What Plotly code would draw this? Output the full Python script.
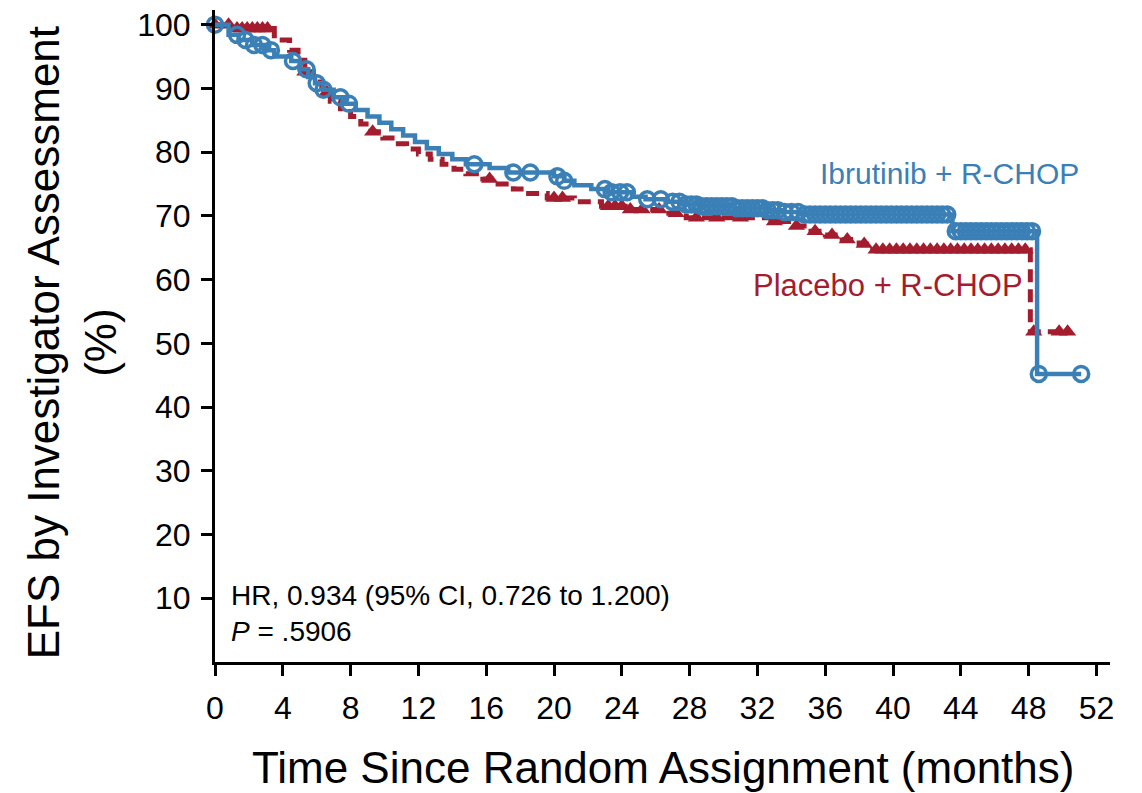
import numpy as np
import plotly.graph_objects as go

# ---------------- data ----------------
# Ibrutinib + R-CHOP: Kaplan-Meier steps (months, EFS %)
ibr_time = [0, 0.8, 1.4, 2.2, 3.0, 3.5, 4.5, 5.0, 5.5, 5.9, 6.4, 7.0, 7.6, 8.3, 9.0, 9.7,
            10.4, 11.1, 11.8, 12.5, 13.2, 14.0, 14.8, 16.2, 17.3, 20.0, 20.6, 21.2, 22.2,
            23.2, 24.6, 25.4, 26.6, 27.6, 28.6, 30.6, 32.6, 33.5, 34.6, 43.5, 48.5]
ibr_surv = [100, 98.4, 97.6, 96.8, 96.0, 95.0, 94.3, 93.0, 91.8, 90.8, 89.8, 88.6, 87.6, 86.6,
            85.6, 84.6, 83.6, 82.6, 81.6, 80.6, 79.7, 78.9, 78.1, 77.5, 76.8, 76.2, 75.5, 74.8,
            74.2, 73.7, 73.0, 72.6, 72.2, 71.8, 71.5, 71.2, 70.9, 70.6, 70.2, 67.6, 45.2]
ibr_end = 51.1
ibr_censor = [0, 1.3, 1.8, 2.3, 2.8, 3.3, 4.6, 5.4, 6.0, 6.4, 7.4, 7.9, 15.3, 17.6, 18.6, 20.2,
              20.6, 23.0, 23.4, 23.9, 24.3, 25.5, 26.3, 27.0, 27.4, 27.8, 28.1, 28.4, 28.7, 29.0,
              29.3, 29.6, 29.9, 30.2, 30.5, 30.8, 31.1, 31.4, 31.7, 32.0, 32.3, 32.6, 32.9, 33.2,
              33.6, 34.0, 34.4, 34.8, 35.1, 35.4, 35.7, 36.0, 36.3, 36.6, 36.9, 37.2, 37.5, 37.8,
              38.1, 38.4, 38.7, 39.0, 39.3, 39.6, 39.9, 40.2, 40.5, 40.8, 41.1, 41.4, 41.7, 42.0,
              42.3, 42.6, 42.9, 43.2, 43.7, 44.0, 44.3, 44.6, 44.9, 45.2, 45.5, 45.8, 46.1, 46.4,
              46.7, 47.0, 47.3, 47.6, 47.9, 48.2, 48.6, 51.1]

# Placebo + R-CHOP: Kaplan-Meier steps (months, EFS %)
pbo_time = [0, 1.0, 3.5, 4.4, 4.9, 5.3, 5.8, 6.3, 6.8, 7.4, 8.0, 8.6, 9.2, 9.9, 10.6, 11.3,
            12.0, 12.7, 13.4, 14.1, 14.8, 15.8, 16.7, 17.6, 18.5, 19.6, 21.2, 22.8, 24.2, 26.6,
            27.8, 32.8, 34.0, 35.0, 36.0, 37.0, 38.0, 38.8, 48.1]
pbo_surv = [100, 99.4, 97.6, 96.0, 94.4, 92.6, 91.0, 89.4, 88.0, 86.8, 85.6, 84.4, 83.2, 82.2,
            81.3, 80.5, 79.7, 78.9, 78.1, 77.3, 76.6, 75.8, 75.0, 74.2, 73.5, 72.8, 72.2, 71.5,
            71.0, 70.4, 69.7, 69.1, 68.4, 67.6, 67.0, 66.3, 65.6, 64.7, 51.8]
pbo_end = 50.4
pbo_censor = [0, 0.8, 1.3, 1.6, 1.9, 2.2, 2.5, 2.8, 3.1, 5.3, 6.6, 9.3, 16.2, 20.0, 20.5, 23.2,
              23.6, 24.0, 24.5, 25.2, 26.2, 27.2, 28.4, 29.6, 31.0, 33.0, 34.3, 35.4, 36.4, 37.3,
              38.3, 39.0, 39.4, 39.8, 40.2, 40.6, 41.0, 41.4, 41.8, 42.2, 42.6, 43.0, 43.4, 43.8,
              44.2, 44.6, 45.0, 45.4, 45.8, 46.2, 46.6, 47.0, 47.4, 47.8, 48.3, 49.8, 50.3]

x_ticks = [0, 4, 8, 12, 16, 20, 24, 28, 32, 36, 40, 44, 48, 52]
y_ticks = [10, 20, 30, 40, 50, 60, 70, 80, 90, 100]

BLUE = "#3a80b6"
RED = "#a41d2e"
FONT = "Liberation Sans, Arial, sans-serif"


def step_at(times, surv, t):
    idx = np.searchsorted(np.array(times), np.array(t), side="right") - 1
    return list(np.array(surv)[idx])


fig = go.Figure()

# Placebo line + censor
fig.add_trace(go.Scatter(
    x=pbo_time + [pbo_end], y=pbo_surv + [pbo_surv[-1]], mode="lines",
    line=dict(color=RED, width=5, dash="13px,7px", shape="hv"),
    showlegend=False, cliponaxis=False, hoverinfo="skip"))
fig.add_trace(go.Scatter(
    x=pbo_censor, y=step_at(pbo_time, pbo_surv, pbo_censor), mode="markers",
    marker=dict(symbol="triangle-up", size=15, color=RED, line=dict(width=0)),
    showlegend=False, cliponaxis=False))

# Ibrutinib line + censor
fig.add_trace(go.Scatter(
    x=ibr_time + [ibr_end], y=ibr_surv + [ibr_surv[-1]], mode="lines",
    line=dict(color=BLUE, width=4.5, shape="hv"),
    showlegend=False, cliponaxis=False, hoverinfo="skip"))
fig.add_trace(go.Scatter(
    x=ibr_censor, y=step_at(ibr_time, ibr_surv, ibr_censor), mode="markers",
    marker=dict(symbol="circle-open", size=15, color=BLUE, line=dict(width=3.5, color=BLUE)),
    showlegend=False, cliponaxis=False))

fig.update_layout(
    width=1142, height=793,
    margin=dict(l=215, r=32, t=7, b=131),
    paper_bgcolor="white", plot_bgcolor="white",
    font=dict(family=FONT, color="black"),
    xaxis=dict(range=[0, 52.8], tickvals=x_ticks, ticktext=[str(v) for v in x_ticks],
               showgrid=False, zeroline=False, showline=True, linecolor="black", linewidth=3,
               ticks="outside", ticklen=11, tickwidth=3, tickcolor="black",
               tickfont=dict(size=32, family=FONT), ticklabelstandoff=5),
    yaxis=dict(range=[0, 102.3], tickvals=y_ticks, ticktext=[str(v) for v in y_ticks],
               showgrid=False, zeroline=False, showline=True, linecolor="black", linewidth=3,
               ticks="outside", ticklen=11, tickwidth=3, tickcolor="black",
               tickfont=dict(size=32, family=FONT), ticklabelstandoff=4),
)

annotations = [
    dict(text="EFS by Investigator Assessment<br>(%)", textangle=-90,
         xref="paper", yref="paper", x=-0.16, y=0.49, xanchor="center", yanchor="middle",
         showarrow=False, font=dict(size=44, family=FONT, color="black")),
    dict(text="Time Since Random Assignment (months)",
         xref="paper", yref="paper", x=0.5, y=-0.162, xanchor="center", yanchor="middle",
         showarrow=False, font=dict(size=44, family=FONT, color="black")),
    dict(text="Ibrutinib + R-CHOP", xref="x", yref="y", x=51.1, y=76.6,
         xanchor="right", yanchor="middle", showarrow=False,
         font=dict(size=30, family=FONT, color=BLUE)),
    dict(text="Placebo + R-CHOP", xref="x", yref="y", x=47.8, y=59.0,
         xanchor="right", yanchor="middle", showarrow=False,
         font=dict(size=31, family=FONT, color=RED)),
    dict(text="HR, 0.934 (95% CI, 0.726 to 1.200)<br><i>P</i> = .5906", align="left",
         xref="x", yref="y", x=0.8, y=7.6, xanchor="left", yanchor="middle", showarrow=False,
         font=dict(size=28, family=FONT, color="black")),
]
fig.update_layout(annotations=annotations)

fig.write_html("out.html")
